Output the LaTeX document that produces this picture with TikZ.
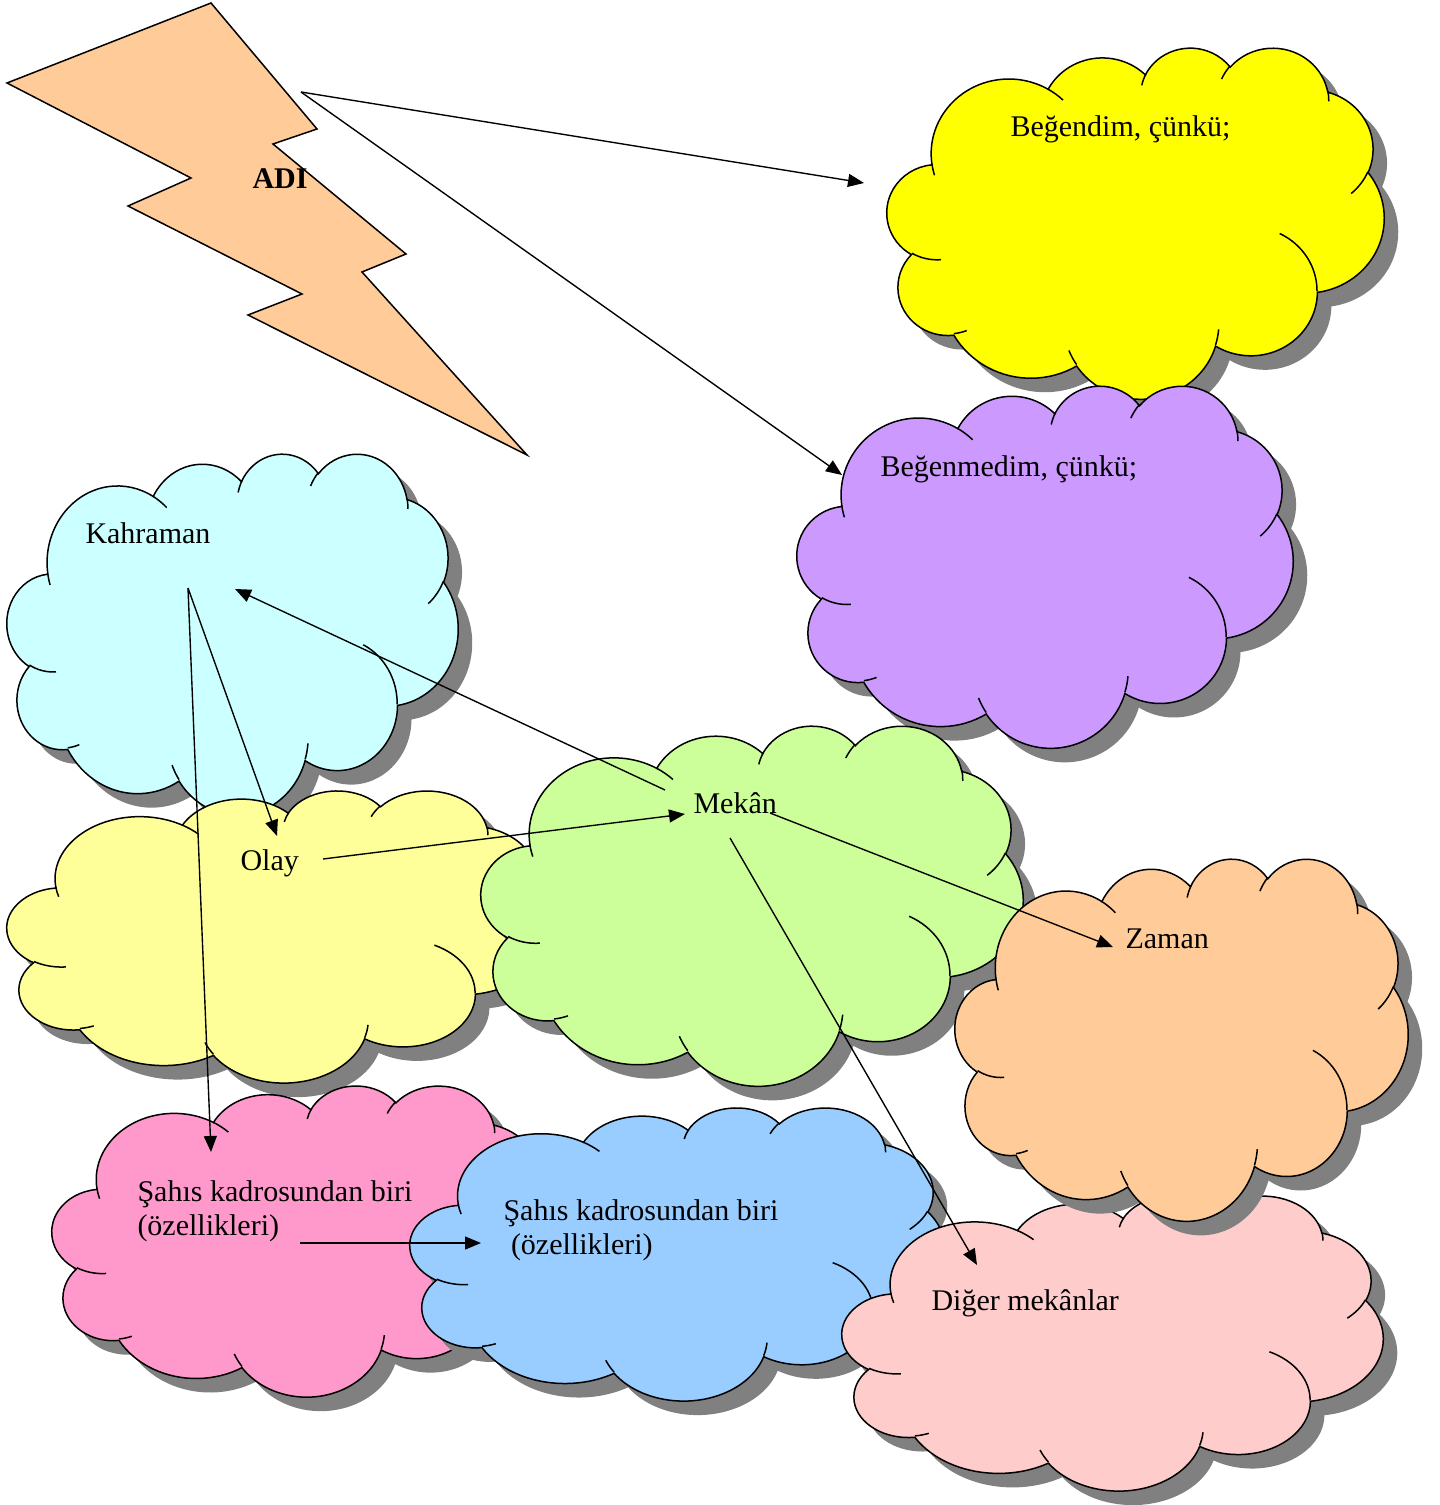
\documentclass[tikz,border=0pt]{standalone}
\usepackage{fontspec}
\setmainfont{Liberation Serif}
\usetikzlibrary{arrows.meta}

\definecolor{sari}{HTML}{FFFF00}
\definecolor{mor}{HTML}{CC99FF}
\definecolor{acikmavi}{HTML}{CCFFFF}
\definecolor{aciksari}{HTML}{FFFF99}
\definecolor{yesil}{HTML}{CCFF99}
\definecolor{turuncu}{HTML}{FFCC99}
\definecolor{pembe}{HTML}{FF99CC}
\definecolor{mavi}{HTML}{99CCFF}
\definecolor{acikpembe}{HTML}{FFCCCC}
\definecolor{golgegri}{HTML}{808080}

% Bulut kenari (43.2 x 43.2 kutu)
\newcommand{\bulutkenar}{(3.9,14.37)
  arc[start angle=-187.75, end angle=-59.62, x radius=6.753, y radius=9.19]
  arc[start angle=-152.02, end angle=-45.46, x radius=5.333, y radius=7.267]
  arc[start angle=-153.48, end angle=-37.33, x radius=4.365, y radius=5.945]
  arc[start angle=-139.72, end angle=-10.22, x radius=4.857, y radius=6.595]
  arc[start angle=-74.78, end angle=23.21, x radius=5.333, y radius=7.273]
  arc[start angle=-37.54, end angle=81.86, x radius=6.775, y radius=9.22]
  arc[start angle=0.46, end angle=121.98, x radius=5.785, y radius=7.867]
  arc[start angle=16.84, end angle=146.24, x radius=6.752, y radius=9.215]
  arc[start angle=59.02, end angle=150.15, x radius=7.72, y radius=10.543]
  arc[start angle=-276.69, end angle=-136.89, x radius=4.36, y radius=5.918]
  arc[start angle=-239.62, end angle=-95.89, x radius=4.345, y radius=5.945]
  -- cycle}

% Bulutun ic cizgileri
\newcommand{\bulutic}{%
  (4.693,26.177) arc[start angle=85.54, end angle=120.38, x radius=4.345, y radius=5.945]
  (6.928,34.899) arc[start angle=68.28, end angle=83.31, x radius=4.36, y radius=5.918]
  (16.478,39.09) arc[start angle=146.24, end angle=158.47, x radius=6.752, y radius=9.215]
  (28.827,34.751) arc[start angle=4.74, end angle=16.84, x radius=6.752, y radius=9.215]
  (34.129,22.954) arc[start angle=-64.0, end angle=0.46, x radius=5.785, y radius=7.867]
  (41.798,15.354) arc[start angle=23.21, end angle=49.67, x radius=5.333, y radius=7.273]
  (38.324,5.426) arc[start angle=-10.22, end angle=0.82, x radius=4.857, y radius=6.595]
  (29.078,3.952) arc[start angle=-156.29, end angle=-139.72, x radius=4.857, y radius=6.595]
  (22.141,4.72) arc[start angle=-167.72, end angle=-153.48, x radius=4.365, y radius=5.945]
  (14.0,5.192) arc[start angle=-59.63, end angle=-45.74, x radius=6.753, y radius=9.19]
  (4.127,15.789) arc[start angle=163.18, end angle=172.25, x radius=6.753, y radius=9.19]}

% \bulut{x}{y}{genislik}{yukseklik}{renk}
\newcommand{\bulut}[5]{%
  \begin{scope}[shift={({#1+14},{#2+14})}, xscale={#3/43.2}, yscale={#4/43.2}]
    \fill[golgegri] \bulutkenar;
  \end{scope}
  \begin{scope}[shift={(#1,#2)}, xscale={#3/43.2}, yscale={#4/43.2}]
    \filldraw[fill=#5, kenar] \bulutkenar;
    \draw[kenar] \bulutic;
  \end{scope}}

\begin{document}
\begin{tikzpicture}[x=0.4pt, y=-0.4pt,
    kenar/.style={draw=black, line width=0.6pt},
    yazi/.style={anchor=base west, inner sep=0pt, align=left,
      font=\fontsize{12}{13.6}\selectfont},
    kalin/.style={yazi, font=\fontsize{12}{13.6}\selectfont\bfseries},
    ok/.style={-{Triangle[length=6.4pt, width=5.2pt]}, line width=0.55pt}]
  \useasboundingbox (0,0) rectangle (1439,1505);

  % Simsek
  \filldraw[fill=turuncu, kenar, line join=miter]
    (7,83) -- (211,3) -- (317,129) -- (273,144) -- (406,254) -- (362,272)
    -- (527,455) -- (248,315) -- (302,294) -- (128,206) -- (191,178) -- cycle;

  % Bulutlar
  \bulut{887}{47}{497}{351}{sari}
  \bulut{797}{385}{496}{362}{mor}
  \bulut{7}{453}{451}{361}{acikmavi}
  \bulut{7}{790}{541}{292}{aciksari}
  \bulut{481}{725}{542}{360}{yesil}
  \bulut{52}{1085}{498}{311}{pembe}
  \bulut{410}{1107}{535}{293}{mavi}
  \bulut{842}{1195}{541}{295}{acikpembe}
  \bulut{955}{858}{453}{362}{turuncu}

  % Yazilar (cok satirlilarda taban son satirda)
  \node[kalin] (adi) at (252,189) {ADI};
  \node[yazi] (begendim) at (1010,137) {Beğendim, çünkü;};
  \node[yazi] (begenmedim) at (880,476) {Beğenmedim, çünkü;};
  \node[yazi] (kahraman) at (85,543) {Kahraman};
  \node[yazi] (olay) at (240,870) {Olay};
  \node[yazi] (mekan) at (693,813) {Mekân};
  \node[yazi] (zaman) at (1125,948) {Zaman};
  \node[yazi] (sahisA) at (137,1235) {Şahıs kadrosundan biri\\(özellikleri)};
  \node[yazi] (sahisB) at (503,1254) {Şahıs kadrosundan biri\\~(özellikleri)};
  \node[yazi] (diger) at (931,1310) {Diğer mekânlar};

  % Ok uclari
  \coordinate (adiuc) at (301,92);
  \coordinate (begendimok) at (864,183);
  \coordinate (begenmedimok) at (842,475);
  \coordinate (kahramanuc) at (188,588);
  \coordinate (kahramanok) at (235,589);
  \coordinate (olayuc) at (323,859);
  \coordinate (olayok) at (277,836);
  \coordinate (mekanuc1) at (665,790);
  \coordinate (mekanok) at (685,814);
  \coordinate (mekanuc2) at (770,813);
  \coordinate (mekanuc3) at (730,838);
  \coordinate (zamanok) at (1113,947);
  \coordinate (digerok) at (977,1265);
  \coordinate (sahisAok) at (211,1152);
  \coordinate (sahisAuc) at (300,1243);
  \coordinate (sahisBok) at (481,1243);

  % Oklar
  \draw[ok] (adiuc) -- (begendimok);
  \draw[ok] (adiuc) -- (begenmedimok);
  \draw[ok] (mekanuc1) -- (kahramanok);
  \draw[ok] (kahramanuc) -- (olayok);
  \draw[ok] (kahramanuc) -- (sahisAok);
  \draw[ok] (olayuc) -- (mekanok);
  \draw[ok] (mekanuc2) -- (zamanok);
  \draw[ok] (mekanuc3) -- (digerok);
  \draw[ok] (sahisAuc) -- (sahisBok);
\end{tikzpicture}
\end{document}
